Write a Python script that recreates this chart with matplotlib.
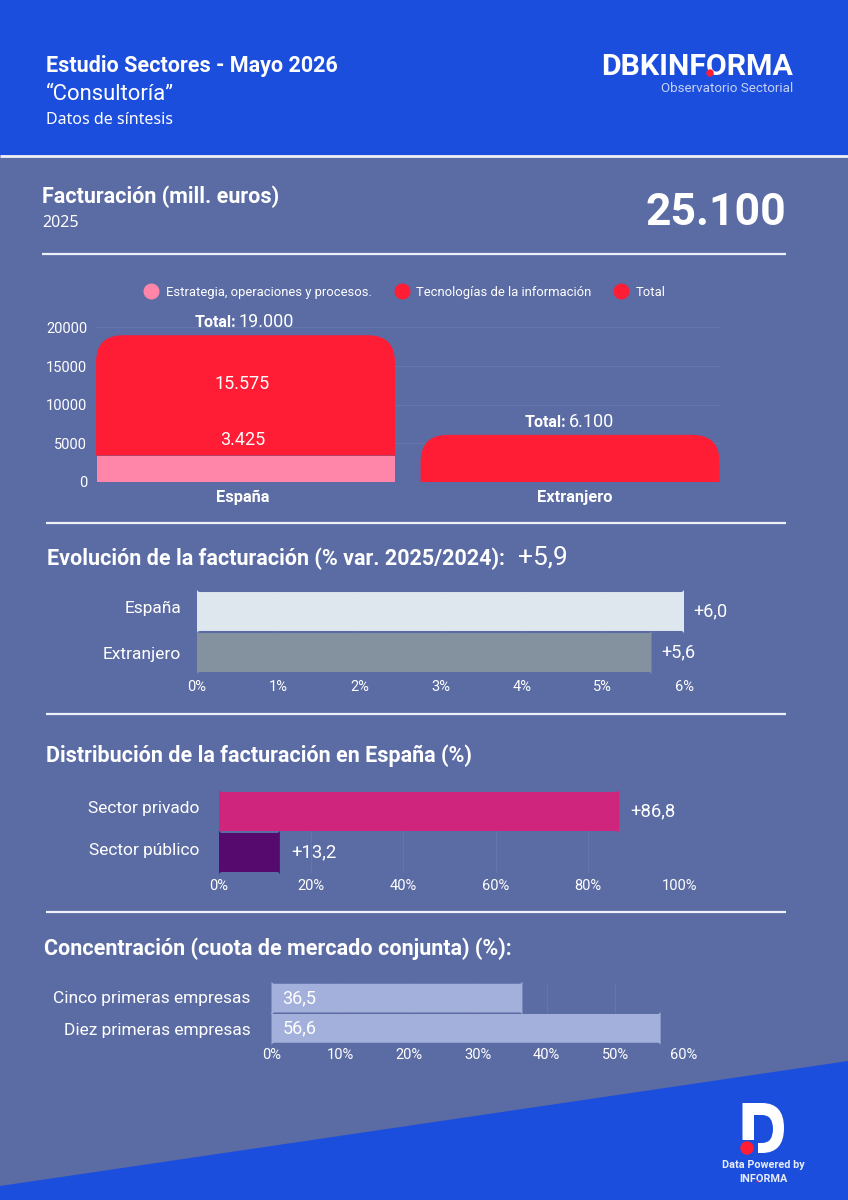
# Estudio sectores - infografia consultoria
import matplotlib
matplotlib.use("Agg")
import matplotlib.pyplot as plt
from matplotlib.lines import Line2D
from matplotlib.patches import Circle, PathPatch, Polygon, Rectangle
from matplotlib.path import Path
from matplotlib.transforms import IdentityTransform, ScaledTranslation

# Data
categories_fact = ["España", "Extranjero"]
estrategia = [3425, 0]
tecnologias = [15575, 6100]
totals_txt = ["19.000", "6.100"]
legend_names = ["Estrategia, operaciones y procesos.", "Tecnologías de la información", "Total"]
fact_ticks = [0, 5000, 10000, 15000, 20000]

evol_names = ["España", "Extranjero"]
evol_values = [6.0, 5.6]
evol_labels = ["+6,0", "+5,6"]
evol_ticks = [0, 1, 2, 3, 4, 5, 6]

dist_names = ["Sector privado", "Sector público"]
dist_values = [86.8, 13.2]
dist_labels = ["+86,8", "+13,2"]
dist_ticks = [0, 20, 40, 60, 80, 100]

conc_names = ["Cinco primeras empresas", "Diez primeras empresas"]
conc_values = [36.5, 56.6]
conc_labels = ["36,5", "56,6"]
conc_ticks = [0, 10, 20, 30, 40, 50, 60]

# Colours
BG = "#5B6BA3"
BLUE = "#1C4EDD"
RED = "#FF1D35"
PINK = "#FF86A8"
GRID = "#6676AD"
W = 848
H = 1200
HEAD = "Roboto"
TITLE_SIZE = 15.5

plt.rcParams["font.family"] = ["Roboto", "DejaVu Sans"]

fig = plt.figure(figsize=(W / 100, H / 100), dpi=100, facecolor=BG)
bg = fig.add_axes([0, 0, 1, 1], zorder=0)
bg.set_xlim(0, W)
bg.set_ylim(H, 0)
bg.axis("off")


def px_axes(x0, y0, x1, y1):
    # axes placed by pixel box of the reference, y measured from the top
    ax = fig.add_axes([x0 / W, 1 - y1 / H, (x1 - x0) / W, (y1 - y0) / H], zorder=2)
    ax.patch.set_alpha(0)
    for s in ax.spines.values():
        s.set_visible(False)
    return ax


def round_bar(ax, rect, radius, top_only=False, **kw):
    # swap a matplotlib bar for one with corners of constant pixel radius
    (xa, ya), (xb, yb) = ax.transData.transform(
        [(rect.get_x(), rect.get_y()), (rect.get_x() + rect.get_width(), rect.get_y() + rect.get_height())]
    )
    rb = 0 if top_only else radius
    r = radius
    verts = [
        (xa + rb, ya), (xb - rb, ya), (xb, ya), (xb, ya + rb),
        (xb, yb - r), (xb, yb), (xb - r, yb),
        (xa + r, yb), (xa, yb), (xa, yb - r),
        (xa, ya + rb), (xa, ya), (xa + rb, ya), (xa + rb, ya),
    ]
    codes = [
        Path.MOVETO, Path.LINETO, Path.CURVE3, Path.CURVE3,
        Path.LINETO, Path.CURVE3, Path.CURVE3,
        Path.LINETO, Path.CURVE3, Path.CURVE3,
        Path.LINETO, Path.CURVE3, Path.CURVE3, Path.CLOSEPOLY,
    ]
    rect.set_visible(False)
    ax.add_patch(PathPatch(Path(verts, codes), transform=IdentityTransform(), zorder=3, clip_on=False, **kw))


# Background shapes
bg.add_patch(Rectangle((0, 0), W, 155, color=BLUE, lw=0))
bg.add_patch(Polygon([(0, 1186), (W, 1061), (W, H), (0, H)], color=BLUE, lw=0))
for x0, x1, y, lw in [(0, W, 156, 2), (42, 786, 253.5, 1.6), (46, 786, 523, 1.6),
                      (46, 786, 713.5, 1.6), (46, 786, 911.5, 1.6)]:
    bg.plot([x0, x1], [y, y], color="#EDF0F7", lw=lw, solid_capstyle="butt")

# Header
bg.text(46, 66, "Estudio Sectores - Mayo 2026", color="white", fontsize=TITLE_SIZE, family=HEAD,
        weight="bold", va="center")
bg.text(46, 94.5, "“Consultoría”", color="white", fontsize=15.8, family=HEAD, va="center")
bg.text(46, 120, "Datos de síntesis", color="white", fontsize=11.5, family="Noto Sans", va="center")

# Logo top right
bg.text(601, 67, "DBKINFORMA", color="white", fontsize=21.8, family=HEAD, weight="bold", va="center")
bg.add_patch(Circle((710, 73), 3, color=RED, zorder=4))
bg.text(793, 88, "Observatorio Sectorial", color="#C5D2F5", fontsize=9.6, family=HEAD, va="center", ha="right")

# Facturacion header
bg.text(42, 197, "Facturación (mill. euros)", color="white", fontsize=TITLE_SIZE, family=HEAD, weight="bold", va="center")
bg.text(42, 223, "2025", color="white", fontsize=11.5, family="Noto Sans", va="center")
bg.text(786, 213, "25.100", color="white", fontsize=32, family=HEAD, weight="bold", va="center", ha="right")

# Section titles
bg.text(47, 559, "Evolución de la facturación (% var. 2025/2024):", color="white", fontsize=TITLE_SIZE, family=HEAD,
        weight="bold", va="center")
bg.text(518, 558, "+5,9", color="white", fontsize=19, family=HEAD, va="center")
bg.text(46, 756, "Distribución de la facturación en España (%)", color="white", fontsize=TITLE_SIZE, family=HEAD,
        weight="bold", va="center")
bg.text(44, 949, "Concentración (cuota de mercado conjunta) (%):", color="white", fontsize=TITLE_SIZE, family=HEAD,
        weight="bold", va="center")

# Stacked chart
ax1 = px_axes(97, 327.5, 720, 482)
ax1.set_xlim(-0.4576, 1.462)
ax1.set_ylim(0, 20000)
ax1.set_yticks(fact_ticks)
ax1.set_yticklabels([str(t) for t in fact_ticks], fontsize=10.5, color="white")
ax1.set_xticks([-0.008, 1.015])
ax1.set_xticklabels(categories_fact, fontsize=11.8, color="white", weight="bold")
ax1.tick_params(length=0, pad=7)
ax1.tick_params(axis="x", pad=6)
ax1.grid(axis="y", color=GRID, lw=0.8)
ax1.set_axisbelow(True)
bars_low = ax1.bar(range(2), estrategia, width=0.921, color=PINK, lw=0, zorder=3)
bars_top = ax1.bar(range(2), tecnologias, bottom=estrategia, width=0.921, color=RED, lw=0, zorder=3)
fig.canvas.draw()
for rect in bars_top:
    round_bar(ax1, rect, 27, top_only=True, facecolor=RED, lw=0)
ax1.text(-0.01, 12700, "15.575", color="white", fontsize=13, ha="center", va="center", zorder=5)
ax1.text(-0.01, 5400, "3.425", color="white", fontsize=13, ha="center", va="center", zorder=5)
for i, (tx, txt) in enumerate(zip([-0.016, 1.0], totals_txt)):
    top = estrategia[i] + tecnologias[i]
    ax1.annotate("Total:", (tx, top), xytext=(-3, 6), textcoords="offset points", ha="right", va="baseline",
                 color="white", fontsize=11.5, weight="bold")
    ax1.annotate(txt, (tx, top), xytext=(-1, 6), textcoords="offset points", ha="left", va="baseline",
                 color="white", fontsize=13)
handles = [Line2D([], [], marker="o", ls="", ms=10.5, color=c) for c in [PINK, RED, RED]]
fig.legend(handles, legend_names, loc="center", bbox_to_anchor=(402 / W, 1 - 292 / H), ncols=3, frameon=False,
           fontsize=9.4, labelcolor="white", handletextpad=0.1, columnspacing=1.3)


def hbar_chart(box, xmax, ticks, names, values, colors, pad, lifts=(0, 0), xpad=4, hide_last=False):
    ax = px_axes(*box)
    ax.set_xlim(0, xmax)
    ax.set_ylim(1.5, -0.5)
    ax.set_xticks(ticks)
    ax.set_xticklabels([f"{t}%" for t in ticks], fontsize=10.5, color="white")
    ax.set_yticks([0, 1])
    ax.set_yticklabels(names, fontsize=12.5, color="white")
    ax.tick_params(length=0, pad=xpad)
    ax.tick_params(axis="y", pad=pad)
    for lab, lift in zip(ax.get_yticklabels(), lifts):
        lab.set_transform(lab.get_transform() + ScaledTranslation(0, lift / 100, fig.dpi_scale_trans))
    ax.grid(axis="x", color=GRID, lw=0.7)
    ax.set_axisbelow(True)
    lines = ax.xaxis.get_gridlines()
    lines[0].set_visible(False)
    if hide_last:
        lines[-1].set_visible(False)
    bars = ax.barh([0, 1], values, height=0.95, color=colors, lw=0, zorder=3)
    fig.canvas.draw()
    for rect, c in zip(bars, colors):
        round_bar(ax, rect, 3, facecolor=c, lw=0)
    return ax


ax2 = hbar_chart((197, 591, 684, 673), 6, evol_ticks, evol_names, evol_values, ["#DEE6EE", "#84919F"], 11.5,
                 lifts=(5, -1), xpad=5, hide_last=True)
for i, lab in enumerate(evol_labels):
    ax2.annotate(lab, (evol_values[i], i), xytext=(7, 0), textcoords="offset points", color="white",
                 fontsize=13, va="center", zorder=5)

ax3 = hbar_chart((219, 791, 680, 873), 100, dist_ticks, dist_names, dist_values, ["#D0257C", "#560A6E"], 14,
                 lifts=(5, 3))
for i, lab in enumerate(dist_labels):
    ax3.annotate(lab, (dist_values[i], i), xytext=(8, 0), textcoords="offset points", color="white",
                 fontsize=13.3, va="center", zorder=5)

ax4 = hbar_chart((271.5, 983, 684, 1043.5), 60, conc_ticks, conc_names, conc_values, ["#A3B0DB", "#A3B0DB"], 15,
                 lifts=(1, -1), xpad=3.5)
for i, lab in enumerate(conc_labels):
    ax4.annotate(lab, (0, i), xytext=(8, 0), textcoords="offset points", color="white",
                 fontsize=13, va="center", zorder=5)

# Logo bottom right
d_path = Path(
    [(742.5, 1103), (762, 1103), (784, 1103), (784, 1128), (784, 1153), (762, 1153), (758, 1153), (758, 1143),
     (762, 1143), (773, 1143), (773, 1129), (773, 1115), (762, 1115), (754, 1115), (754, 1140), (742.5, 1140),
     (742.5, 1103)],
    [Path.MOVETO, Path.LINETO, Path.CURVE3, Path.CURVE3, Path.CURVE3, Path.CURVE3, Path.LINETO, Path.LINETO,
     Path.LINETO, Path.CURVE3, Path.CURVE3, Path.CURVE3, Path.CURVE3, Path.LINETO, Path.LINETO, Path.LINETO,
     Path.CLOSEPOLY],
)
bg.add_patch(PathPatch(d_path, facecolor="white", lw=0))
bg.add_patch(Circle((747, 1148), 6.7, color=RED, lw=0, zorder=4))
bg.text(763, 1165, "Data Powered by", color="#E6ECFB", fontsize=7.8, family=HEAD, weight="bold",
        ha="center", va="center")
bg.text(763, 1179, "INFORMA", color="#E6ECFB", fontsize=7.8, family=HEAD, weight="bold", ha="center", va="center")
bg.add_patch(Circle((757.5, 1181.5), 1.1, color=RED, lw=0, zorder=4))

fig.savefig("out.png", dpi=100, facecolor=BG)
